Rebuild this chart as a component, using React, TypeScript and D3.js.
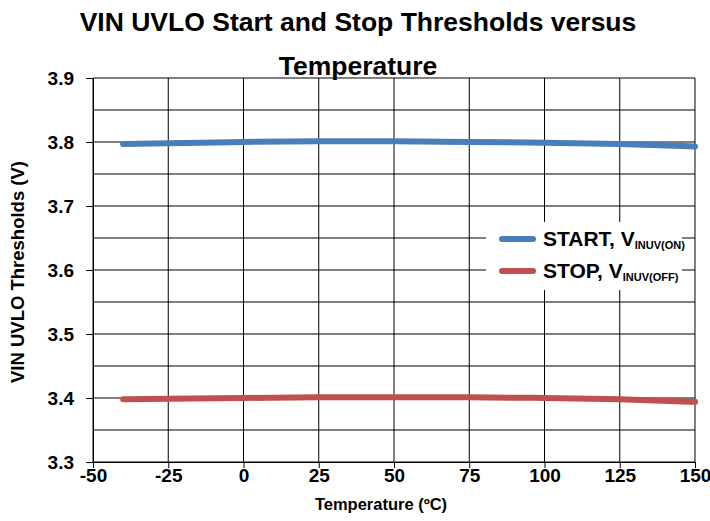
import React, { useEffect, useRef } from 'react';
import * as d3 from 'd3';

const temps = [-40, -25, 0, 25, 50, 75, 100, 125, 150];
const startV = [3.797, 3.798, 3.8, 3.801, 3.801, 3.8, 3.799, 3.797, 3.793];
const stopV = [3.398, 3.399, 3.4, 3.401, 3.401, 3.401, 3.4, 3.398, 3.394];
const xTicks = [-50, -25, 0, 25, 50, 75, 100, 125, 150];
const yTicks = [3.3, 3.4, 3.5, 3.6, 3.7, 3.8, 3.9];
const yGrid = [3.35, 3.45, 3.55, 3.65, 3.75, 3.85];

const font = '"Liberation Sans", Arial, sans-serif';

const App: React.FC = () => {
  const ref = useRef<SVGSVGElement | null>(null);

  useEffect(() => {
    if (!ref.current) return;
    const svg = d3.select(ref.current);
    svg.selectAll('*').remove();

    const left = 93, right = 695, top = 78, bottom = 462;
    const x = d3.scaleLinear().domain([-50, 150]).range([left, right]);
    const y = d3.scaleLinear().domain([3.3, 3.9]).range([bottom, top]);

    // grid
    svg.append('g')
      .selectAll('line')
      .data(yGrid.concat(yTicks))
      .enter().append('line')
      .attr('x1', left).attr('x2', right)
      .attr('y1', d => y(d)).attr('y2', d => y(d))
      .attr('stroke', '#000').attr('stroke-width', 1);

    svg.append('g')
      .selectAll('line')
      .data(xTicks)
      .enter().append('line')
      .attr('x1', d => x(d)).attr('x2', d => x(d))
      .attr('y1', top).attr('y2', bottom)
      .attr('stroke', '#000').attr('stroke-width', 1);

    // axes
    const yAxis = svg.append('g')
      .attr('transform', `translate(${left},0)`)
      .call(d3.axisLeft(y).tickValues(yTicks).tickSize(7).tickPadding(12).tickFormat(d3.format('.1f')));
    yAxis.select('.domain').attr('stroke', '#000');
    yAxis.selectAll('text')
      .style('font-family', font).style('font-weight', 'bold').style('font-size', '19px').attr('fill', '#000');

    const xAxis = svg.append('g')
      .attr('transform', `translate(0,${bottom})`)
      .call(d3.axisBottom(x).tickValues(xTicks).tickSize(6).tickPadding(1).tickFormat(d => String(d)));
    xAxis.select('.domain').attr('stroke', '#000');
    xAxis.selectAll('text')
      .style('font-family', font).style('font-weight', 'bold').style('font-size', '19px').attr('fill', '#000');

    // lines
    const line = d3.line<number>()
      .x((_, i) => x(temps[i]))
      .y(d => y(d))
      .curve(d3.curveMonotoneX);

    const series = [
      { values: startV, color: '#4a7ebb', label: 'START, V', sub: 'INUV(ON)' },
      { values: stopV, color: '#c0504d', label: 'STOP, V', sub: 'INUV(OFF)' },
    ];

    svg.selectAll('.series')
      .data(series)
      .enter().append('path')
      .attr('class', 'series')
      .attr('d', d => line(d.values) as string)
      .attr('fill', 'none')
      .attr('stroke', d => d.color)
      .attr('stroke-width', 6)
      .attr('stroke-linecap', 'round');

    // legend
    const legend = svg.append('g');
    legend.append('rect')
      .attr('x', 486).attr('y', 222).attr('width', 196).attr('height', 68)
      .attr('fill', '#fff');
    series.forEach((s, i) => {
      const ly = 239 + i * 32;
      legend.append('line')
        .attr('x1', 502).attr('x2', 533).attr('y1', ly).attr('y2', ly)
        .attr('stroke', s.color).attr('stroke-width', 6).attr('stroke-linecap', 'round');
      const t = legend.append('text')
        .attr('x', 543).attr('y', ly + 7)
        .style('font-family', font).style('font-weight', 'bold').style('font-size', '21px');
      t.append('tspan').text(s.label);
      t.append('tspan').attr('dy', 3).style('font-size', '11px').text(s.sub);
    });

    // title
    const title = svg.append('text')
      .attr('text-anchor', 'middle')
      .style('font-family', font).style('font-weight', 'bold').style('font-size', '26.5px');
    title.append('tspan').attr('x', 358).attr('y', 31).text('VIN UVLO Start and Stop Thresholds versus');
    title.append('tspan').attr('x', 358).attr('y', 75).text('Temperature');

    svg.append('text')
      .attr('x', 381).attr('y', 510)
      .attr('text-anchor', 'middle')
      .style('font-family', font).style('font-weight', 'bold').style('font-size', '16.5px')
      .text('Temperature (ºC)');

    svg.append('text')
      .attr('transform', `translate(24,272) rotate(-90)`)
      .attr('text-anchor', 'middle')
      .style('font-family', font).style('font-weight', 'bold').style('font-size', '18.5px')
      .text('VIN UVLO Thresholds (V)');
  }, []);

  return <svg ref={ref} width={710} height={521} style={{ position: 'absolute', left: 0, top: 0, background: '#fff' }} />;
};

export default App;
